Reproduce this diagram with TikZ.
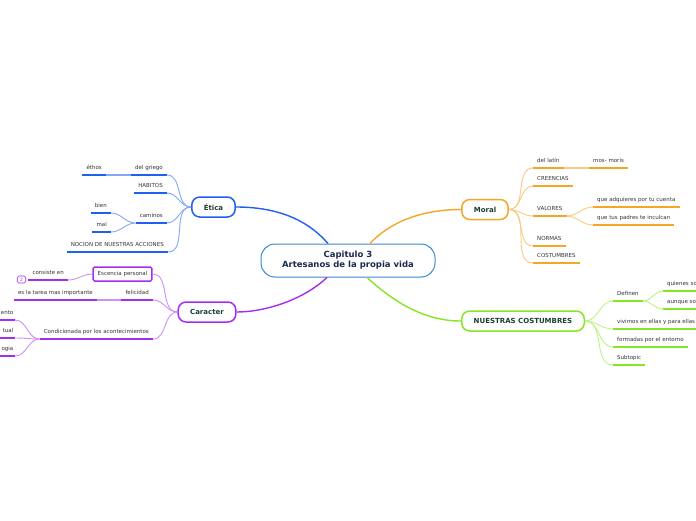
\documentclass[tikz,border=0pt]{standalone}
\usepackage{fontspec}
\setmainfont{DejaVu Sans}
\definecolor{cblue}{HTML}{1F5FF2}
\definecolor{cbluel}{HTML}{85A8F6}
\definecolor{corange}{HTML}{F5A623}
\definecolor{corangel}{HTML}{F9CA80}
\definecolor{cpurple}{HTML}{A42EF0}
\definecolor{cpurplel}{HTML}{CF90F7}
\definecolor{cgreen}{HTML}{86E622}
\definecolor{cgreenl}{HTML}{BCF384}
\definecolor{ccentral}{HTML}{3B88D0}
\definecolor{ctxt}{HTML}{333333}
\definecolor{ctopic}{HTML}{1D3F30}
\definecolor{ccentraltxt}{HTML}{1B2A4E}
\tikzset{
  centralbox/.style={draw=ccentral, line width=1pt, rounded corners=14pt, minimum width=174pt, minimum height=33pt, align=center, font=\fontsize{8.5}{10}\selectfont\bfseries, text=ccentraltxt, fill=white},
  topicbox/.style={draw=#1, line width=1.5pt, rounded corners=8pt, inner xsep=12pt, minimum height=20pt, font=\fontsize{7}{8}\selectfont\bfseries, text=ctopic, fill=white},
  subnode/.style={font=\fontsize{5.5}{6}\selectfont, text=ctxt, inner xsep=4pt, inner ysep=3.5pt, text height=4.5pt, text depth=1.5pt, append after command={(\tikzlastnode.south west) edge[draw=#1, line width=2pt] (\tikzlastnode.south east)}},
  mainlink/.style={draw=#1, line width=1.4pt},
}
\begin{document}
\begin{tikzpicture}[x=1pt, y=-1pt]
\useasboundingbox (0,0) rectangle (696,520);
\fill[white] (0,0) rectangle (696,520);
\clip (0,0) rectangle (696,520);

% central and main topics
\node[centralbox] (cen) at (348,260.5) {Capitulo 3\\Artesanos de la propia vida};
\node[topicbox=cblue] (etica) at (213.5,207) {Ética};
\node[topicbox=corange] (moral) at (485,209.5) {Moral};
\node[topicbox=cpurple] (car) at (207,312) {Caracter};
\node[topicbox=cgreen] (nc) at (523,321) {NUESTRAS COSTUMBRES};

% Etica subtopics
\node[subnode=cblue, anchor=south east] (dg) at (167,175) {del griego};
\node[subnode=cblue, anchor=south east] (eth) at (106,175) {éthos};
\node[subnode=cblue, anchor=south east] (hab) at (167,193) {HABITOS};
\node[subnode=cblue, anchor=south east] (cam) at (167,223) {caminos};
\node[subnode=cblue, anchor=south east] (bien) at (111,213) {bien};
\node[subnode=cblue, anchor=south east] (mal) at (111,232) {mal};
\node[subnode=cblue, anchor=south east] (noc) at (168,252) {NOCION DE NUESTRAS ACCIONES};

% Caracter subtopics
\node[draw=cpurple, line width=1.5pt, rounded corners=1.5pt, inner xsep=4.5pt, minimum height=14pt, font=\fontsize{5.5}{6}\selectfont, text=ctxt, fill=white] (esc) at (122.5,274) {Escencia personal};
\node[subnode=cpurple, anchor=south east] (cons) at (68,280) {consiste en};
\node[draw=cpurple, line width=0.6pt, rounded corners=1.5pt, minimum width=8.5pt, minimum height=7pt, inner sep=0pt, font=\fontsize{4.5}{5}\selectfont, text=cpurple] (badge) at (21.5,279.5) {2};
\node[subnode=cpurple, anchor=south east] (fel) at (153,300) {felicidad};
\node[subnode=cpurple, anchor=south east] (tarea) at (97,300) {es la tarea mas importante};
\node[subnode=cpurple, anchor=south east] (cond) at (153,339) {Condicionada por los acontecimientos};
\node[subnode=cpurple, anchor=south east, inner xsep=1.5pt, text width=30pt, align=right] (f1) at (15,320) {ento};
\node[subnode=cpurple, anchor=south east, inner xsep=1.5pt, text width=30pt, align=right] (f2) at (15,338) {tual};
\node[subnode=cpurple, anchor=south east, inner xsep=1.5pt, text width=30pt, align=right] (f3) at (15,356) {ogia};

% Moral subtopics
\node[subnode=corange, anchor=south west] (lat) at (533,168) {del latín};
\node[subnode=corange, anchor=south west] (mos) at (589,168) {mos- moris};
\node[subnode=corange, anchor=south west] (cre) at (533,186) {CREENCIAS};
\node[subnode=corange, anchor=south west] (val) at (533,216) {VALORES};
\node[subnode=corange, anchor=south west] (adq) at (593,207) {que adquieres por tu cuenta};
\node[subnode=corange, anchor=south west] (inc) at (593,225) {que tus padres te inculcan};
\node[subnode=corange, anchor=south west] (nor) at (533,246) {NORMAS};
\node[subnode=corange, anchor=south west] (cos) at (533,263) {COSTUMBRES};

% Nuestras costumbres subtopics
\node[subnode=cgreen, anchor=south west] (def) at (613,301) {Definen};
\node[subnode=cgreen, anchor=south west, text width=40pt, align=left] (q1) at (663,291) {quienes so};
\node[subnode=cgreen, anchor=south west, text width=40pt, align=left] (q2) at (663,309) {aunque so};
\node[subnode=cgreen, anchor=south west] (viv) at (613,329) {vivimos en ellas y para ellas};
\node[subnode=cgreen, anchor=south west] (form) at (613,347) {formadas por el entorno};
\node[subnode=cgreen, anchor=south west] (subt) at (613,365) {Subtopic};

% main connectors
\draw[mainlink=cblue] (etica.east) .. controls (285,207) and (312,225) .. ([xshift=-20pt]cen.north);
\draw[mainlink=corange] ([xshift=22pt]cen.north) .. controls (392,220) and (425,209.5) .. (moral.west);
\draw[mainlink=cpurple] ([xshift=-21pt]cen.south) .. controls (303,300) and (265,312) .. (car.east);
\draw[mainlink=cgreen] ([xshift=19pt]cen.south) .. controls (395,303) and (425,321) .. (nc.west);

% Etica links
\foreach \n in {dg,hab,cam,noc}
  \draw[cbluel, line width=0.9pt] (etica.west) to[out=180,in=0] (\n.south east);
\draw[cbluel, line width=1.4pt] (dg.south west) -- (eth.south east);
\draw[cbluel, line width=0.9pt] (cam.south west) to[out=180,in=0] (bien.south east);
\draw[cbluel, line width=0.9pt] (cam.south west) to[out=180,in=0] (mal.south east);

% Caracter links
\draw[cpurplel, line width=0.9pt] (car.west) to[out=180,in=0] (esc.east);
\draw[cpurplel, line width=0.9pt] (car.west) to[out=180,in=0] (fel.south east);
\draw[cpurplel, line width=0.9pt] (car.west) to[out=180,in=0] (cond.south east);
\draw[cpurplel, line width=0.9pt] (esc.west) to[out=180,in=0] (cons.south east);
\draw[cpurplel, line width=1.4pt] (fel.south west) -- (tarea.south east);
\foreach \n in {f1,f2,f3}
  \draw[cpurplel, line width=0.9pt] (cond.south west) to[out=180,in=0] (\n.south east);

% Moral links
\foreach \n in {lat,cre,val,nor,cos}
  \draw[corangel, line width=0.9pt] (moral.east) to[out=0,in=180] (\n.south west);
\draw[corangel, line width=1.4pt] (lat.south east) -- (mos.south west);
\draw[corangel, line width=0.9pt] (val.south east) to[out=0,in=180] (adq.south west);
\draw[corangel, line width=0.9pt] (val.south east) to[out=0,in=180] (inc.south west);

% Nuestras costumbres links
\foreach \n in {def,viv,form,subt}
  \draw[cgreenl, line width=0.9pt] (nc.east) to[out=0,in=180] (\n.south west);
\draw[cgreenl, line width=0.9pt] (def.south east) to[out=0,in=180] (q1.south west);
\draw[cgreenl, line width=0.9pt] (def.south east) to[out=0,in=180] (q2.south west);
\end{tikzpicture}
\end{document}
